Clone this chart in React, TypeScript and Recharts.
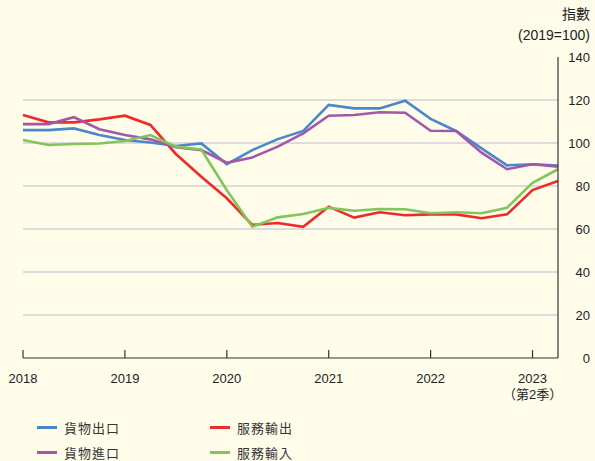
import { LineChart, Line, XAxis, YAxis, CartesianGrid } from "recharts"

const quarters = [
  "2018Q1", "2018Q2", "2018Q3", "2018Q4",
  "2019Q1", "2019Q2", "2019Q3", "2019Q4",
  "2020Q1", "2020Q2", "2020Q3", "2020Q4",
  "2021Q1", "2021Q2", "2021Q3", "2021Q4",
  "2022Q1", "2022Q2", "2022Q3", "2022Q4",
  "2023Q1", "2023Q2",
]

// 指數 (2019=100)
const goodsExports = [106, 106, 106.8, 103.7, 101.4, 100.2, 98.6, 99.8, 90.2, 96.7, 101.8, 105.6, 117.7, 116.1, 116.1, 119.7, 111.2, 105.6, 97.5, 89.6, 90.1, 89.5]
const goodsImports = [108.8, 108.8, 112, 106.4, 103.7, 101.7, 98, 96.7, 90.8, 93.3, 98.3, 104.5, 112.7, 113, 114.3, 114.1, 105.7, 105.6, 95.5, 87.8, 90.1, 89]
const servicesExports = [113, 109.6, 109.6, 111, 112.7, 108.4, 94.9, 84.3, 74.3, 61.9, 62.8, 61, 70.4, 65.3, 67.8, 66.4, 66.8, 66.8, 65, 66.8, 78.1, 82.3]
const servicesImports = [101.4, 99.1, 99.5, 99.8, 100.9, 103.7, 98.3, 97, 78, 61.1, 65.4, 67, 69.8, 68.5, 69.3, 69.2, 67.3, 67.8, 67.3, 69.9, 81.5, 87.8]

const yTicks = [0, 20, 40, 60, 80, 100, 120, 140]
const gridValues = [20, 40, 60, 80, 100, 120]

const series = [
  { key: "goodsExports", name: "貨物出口", color: "#4a88c9" },
  { key: "servicesExports", name: "服務輸出", color: "#ee2b2b" },
  { key: "goodsImports", name: "貨物進口", color: "#a457a9" },
  { key: "servicesImports", name: "服務輸入", color: "#82c55b" },
]

const data = quarters.map((q, i) => ({
  q,
  goodsExports: goodsExports[i],
  goodsImports: goodsImports[i],
  servicesExports: servicesExports[i],
  servicesImports: servicesImports[i],
}))

const FONT = "'Liberation Sans', 'Noto Sans CJK TC', sans-serif"
const BG = "#fffcea"

function YearTick({ x, y, payload }: any) {
  const year = String(payload.value).slice(0, 4)
  return (
    <g>
      <line x1={x} x2={x} y1={y - 8} y2={y} stroke="#333" strokeWidth={1.2} />
      <text x={x} y={y + 25} textAnchor="middle" fill="#222" fontSize={13} fontFamily={FONT}>
        {year}
      </text>
      {year === "2023" && (
        <text x={x} y={y + 41} textAnchor="middle" fill="#222" fontSize={13} fontFamily={FONT}>
          {"（第2季）"}
        </text>
      )}
    </g>
  )
}

function ValueTick({ x, y, payload }: any) {
  return (
    <text x={x + 32} y={y} dy="0.36em" textAnchor="end" fill="#222" fontSize={13} fontFamily={FONT}>
      {payload.value}
    </text>
  )
}

export default function App() {
  return (
    <div style={{ position: "absolute", left: 0, top: 0, width: 595, height: 461, background: BG, fontFamily: FONT }}>
      <div style={{ position: "absolute", right: 5, top: 4, textAlign: "right", fontSize: 14, color: "#222", lineHeight: "21px" }}>
        <div>{"指數"}</div>
        <div>{"(2019=100)"}</div>
      </div>

      <LineChart width={595} height={461} data={data} margin={{ top: 57, right: 0, bottom: 63, left: 23 }}>
        <CartesianGrid horizontal vertical={false} horizontalValues={gridValues} stroke="#dcdcdc" strokeWidth={2} />
        <XAxis
          dataKey="q"
          interval={3}
          tick={<YearTick />}
          tickLine={false}
          tickSize={0}
          tickMargin={0}
          axisLine={{ stroke: "#333", strokeWidth: 1.2 }}
          height={40}
        />
        <YAxis
          orientation="right"
          domain={[0, 140]}
          ticks={yTicks}
          tick={<ValueTick />}
          tickLine={false}
          tickSize={0}
          tickMargin={0}
          axisLine={{ stroke: "#333", strokeWidth: 1.2 }}
          width={37}
        />
        {series.map((s) => (
          <Line
            key={s.key}
            type="linear"
            dataKey={s.key}
            name={s.name}
            stroke={s.color}
            strokeWidth={2.6}
            dot={false}
            isAnimationActive={false}
          />
        ))}
      </LineChart>

      {/* legend */}
      <div style={{ position: "absolute", left: 37, top: 417, display: "grid", gridTemplateColumns: "173px 120px", rowGap: 5, fontSize: 13, color: "#333" }}>
        {series.map((s) => (
          <div key={s.key} style={{ display: "flex", alignItems: "center", height: 20 }}>
            <span style={{ display: "inline-block", width: 20, height: 3, background: s.color, marginRight: 7 }} />
            <span style={{ letterSpacing: 1 }}>{s.name}</span>
          </div>
        ))}
      </div>
    </div>
  )
}
